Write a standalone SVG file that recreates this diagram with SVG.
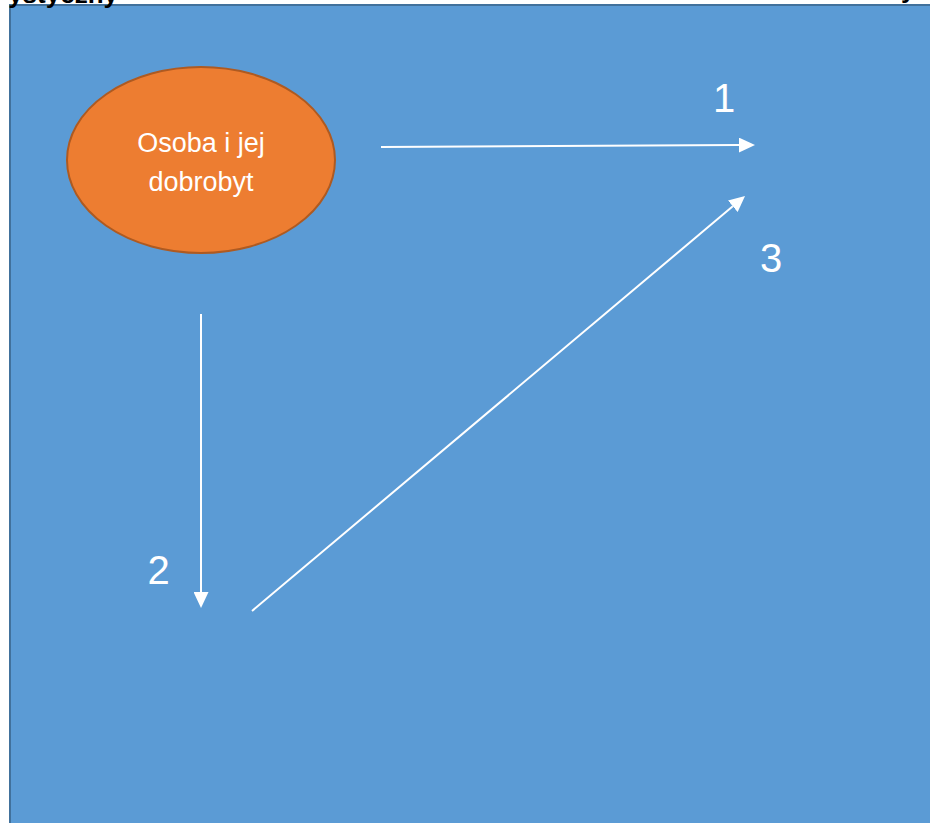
<svg xmlns="http://www.w3.org/2000/svg" width="930" height="823" viewBox="0 0 930 823">
<style>
.hdr{font-family:"Liberation Sans",Arial,sans-serif;font-weight:bold;font-size:26px;fill:#000}
.lbl{font-family:"Liberation Sans",Arial,sans-serif;font-size:40px;fill:#fff;text-anchor:middle}
.ntx{font-family:"Liberation Sans",Arial,sans-serif;font-size:27px;fill:#fff;text-anchor:middle}
.conn{stroke:#fff;stroke-width:2;fill:none}
</style>
<defs>
<marker id="ah" viewBox="0 0 16 15" markerWidth="16" markerHeight="15" refX="0" refY="7.5" orient="auto" markerUnits="userSpaceOnUse">
<path d="M0,0 L16,7.5 L0,15 Z" fill="#fff"/>
</marker>
</defs>
<rect x="0" y="0" width="930" height="823" fill="#fff"/>
<g id="panel">
<rect x="10" y="5" width="940" height="840" fill="#5B9BD5" stroke="#41719C" stroke-width="2"/>
</g>
<g id="header">
<text class="hdr" x="118" y="3" text-anchor="end">ystyczny</text>
<text class="hdr" x="901" y="-2">y</text>
</g>
<g id="node-osoba">
<ellipse cx="201" cy="160" rx="134" ry="93" fill="#ED7D31" stroke="#AE5A21" stroke-width="2"/>
<text class="ntx" x="201" y="152">Osoba i jej</text>
<text class="ntx" x="201" y="191">dobrobyt</text>
</g>
<g id="connectors">
<line class="conn" x1="381" y1="147" x2="739" y2="145.1" marker-end="url(#ah)"/>
<line class="conn" x1="201" y1="314" x2="201" y2="592" marker-end="url(#ah)"/>
<line class="conn" x1="252" y1="611" x2="732.8" y2="206.3" marker-end="url(#ah)"/>
</g>
<g id="labels">
<text class="lbl" x="724" y="112">1</text>
<text class="lbl" x="158.5" y="584">2</text>
<text class="lbl" x="771" y="272">3</text>
</g>
</svg>
